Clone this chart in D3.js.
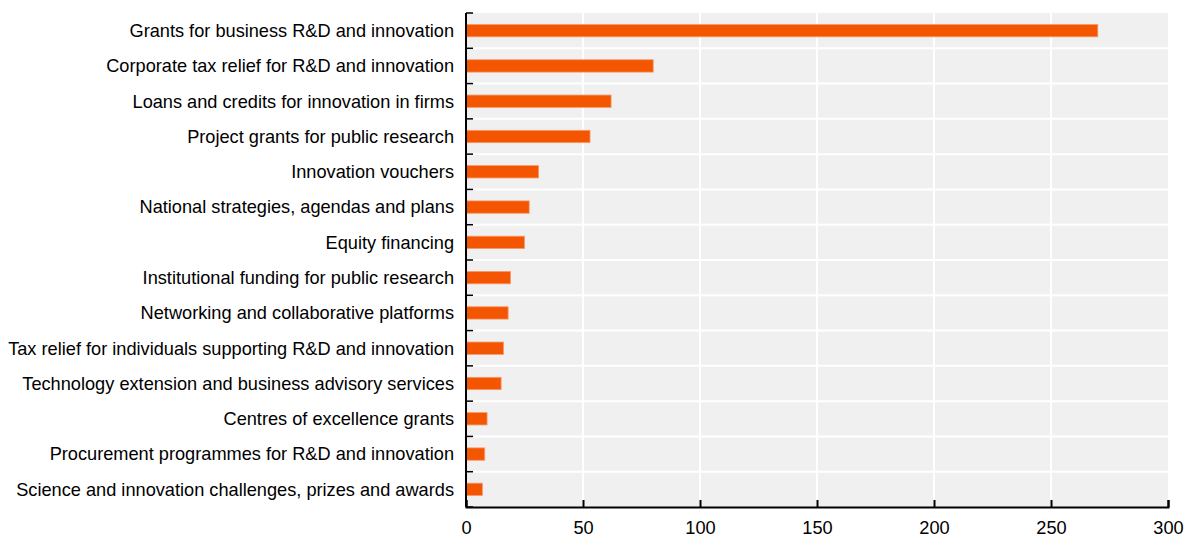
<!DOCTYPE html>
<html>
<head>
<meta charset="utf-8">
<script src="https://cdn.jsdelivr.net/npm/d3@7"></script>
<style>
  html, body { margin: 0; padding: 0; background: #fff; }
  svg { display: block; font-family: "Liberation Sans", Arial, sans-serif; }
</style>
</head>
<body>
<svg id="chart" width="1184" height="543"></svg>
<script>
const categories = [
  'Grants for business R&D and innovation',
  'Corporate tax relief for R&D and innovation',
  'Loans and credits for innovation in firms',
  'Project grants for public research',
  'Innovation vouchers',
  'National strategies, agendas and plans',
  'Equity financing',
  'Institutional funding for public research',
  'Networking and collaborative platforms',
  'Tax relief for individuals supporting R&D and innovation',
  'Technology extension and business advisory services',
  'Centres of excellence grants',
  'Procurement programmes for R&D and innovation',
  'Science and innovation challenges, prizes and awards'
];
const values = [270, 80, 62, 53, 31, 27, 25, 19, 18, 16, 15, 9, 8, 7];
const xTicks = [0, 50, 100, 150, 200, 250, 300];

const svg = d3.select('#chart');
const margin = { top: 13, right: 16, bottom: 36, left: 466 };
const width = 1184 - margin.left - margin.right;
const height = 543 - margin.top - margin.bottom;

const x = d3.scaleLinear().domain([0, 300]).range([0, width]);
const y = d3.scaleBand().domain(categories).range([0, height]).paddingInner(0).paddingOuter(0);

const g = svg.append('g').attr('transform', `translate(${margin.left},${margin.top})`);

// plot background
g.append('rect')
  .attr('width', width)
  .attr('height', height)
  .attr('fill', '#f0f0f0');

// vertical gridlines
g.append('g')
  .selectAll('line')
  .data(xTicks.filter(d => d > 0 && d < 300))
  .join('line')
  .attr('x1', d => x(d)).attr('x2', d => x(d))
  .attr('y1', 0).attr('y2', height)
  .attr('stroke', '#fff')
  .attr('stroke-width', 2);

// horizontal separators between bands
const bounds = categories.map(c => y(c)).concat([height]);
g.append('g')
  .selectAll('line')
  .data(bounds.slice(1, -1))
  .join('line')
  .attr('x1', 0).attr('x2', width)
  .attr('y1', d => d).attr('y2', d => d)
  .attr('stroke', '#fff')
  .attr('stroke-width', 2);

// bars
const barH = y.bandwidth() * 0.35;
g.append('g')
  .selectAll('rect')
  .data(categories)
  .join('rect')
  .attr('x', 0.5)
  .attr('y', (d) => y(d) + (y.bandwidth() - barH) / 2)
  .attr('width', (d, i) => x(values[i]) - 0.5)
  .attr('height', barH)
  .attr('fill', '#f45500')
  .attr('stroke', '#f79a6c')
  .attr('stroke-width', 0.8);

// left axis: line + ticks at band edges pointing inward
g.append('line')
  .attr('x1', 0).attr('x2', 0)
  .attr('y1', 0).attr('y2', height)
  .attr('stroke', '#000')
  .attr('stroke-width', 2);
g.append('g')
  .selectAll('line')
  .data(bounds)
  .join('line')
  .attr('x1', 0).attr('x2', 7)
  .attr('y1', d => d).attr('y2', d => d)
  .attr('stroke', '#000')
  .attr('stroke-width', 1.5);

// category labels
g.append('g')
  .selectAll('text')
  .data(categories)
  .join('text')
  .attr('x', -12)
  .attr('y', d => y(d) + y.bandwidth() / 2)
  .attr('dy', '0.35em')
  .attr('text-anchor', 'end')
  .attr('font-size', 18.2)
  .attr('fill', '#000')
  .text(d => d);

// bottom axis
const xAxis = g.append('g')
  .attr('transform', `translate(0,${height})`)
  .call(d3.axisBottom(x).tickValues(xTicks).tickSize(-7).tickPadding(14).tickFormat(d3.format('d')));
xAxis.select('.domain').attr('stroke', '#000').attr('stroke-width', 2);
xAxis.selectAll('.tick line').attr('stroke', '#000').attr('stroke-width', 2);
xAxis.selectAll('.tick text')
  .attr('font-size', 18.2)
  .attr('font-family', '"Liberation Sans", Arial, sans-serif')
  .attr('fill', '#000');
</script>
</body>
</html>
